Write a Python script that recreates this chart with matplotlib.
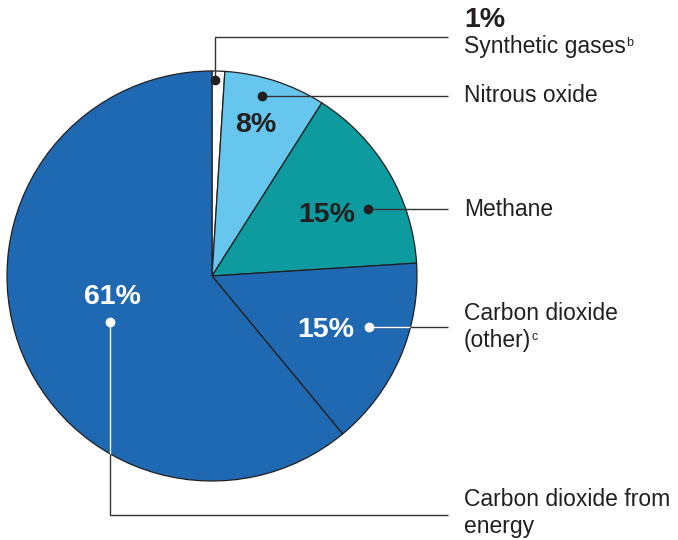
import matplotlib.pyplot as plt
from matplotlib.patches import Circle

plt.rcParams['font.family'] = ['Liberation Sans', 'DejaVu Sans']

labels = ['Synthetic gases', 'Nitrous oxide', 'Methane', 'Carbon dioxide\n(other)', 'Carbon dioxide from\nenergy']
shares = [1, 8, 15, 15, 61]
pct_text = ['1%', '8%', '15%', '15%', '61%']
colors = ['#ffffff', '#66c6ee', '#0e9b9f', '#1f69b3', '#1f69b3']
superscripts = ['b', '', '', 'c', '']

W, H = 678, 540
dark = '#231f20'

fig = plt.figure(figsize=(W / 100, H / 100), dpi=100)
ax = fig.add_axes([0, 0, 1, 1])

cx, cy, r = 212, 276, 205
wedges, _ = ax.pie(shares, colors=colors, startangle=90, counterclock=False,
                   center=(cx, H - cy), radius=r,
                   wedgeprops=dict(edgecolor=dark, linewidth=0.9))
ax.set_xlim(0, W)
ax.set_ylim(0, H)
ax.set_aspect('equal')
ax.axis('off')

clip = Circle((cx, H - cy), r, transform=ax.transData)

def leader(pts, dot_color):
    xs = [p[0] for p in pts]
    ys = [H - p[1] for p in pts]
    ax.plot(xs, ys, color='#333333', lw=1.0, zorder=3, solid_capstyle='butt')
    if dot_color == 'white':
        ln, = ax.plot(xs, ys, color='white', lw=1.0, zorder=4)
        ln.set_clip_path(clip)
    ax.plot(xs[0], ys[0], 'o', color=dot_color, ms=6, zorder=5)

# leader lines (pixel coordinates)
leader([(215, 80), (215, 37), (448, 37)], dark)
leader([(262, 96), (448, 96)], dark)
leader([(368, 209), (448, 209)], dark)
leader([(369, 327), (448, 327)], 'white')
leader([(110, 322), (110, 515), (448, 515)], 'white')

# percentage labels inside pie
pfs = 20.5
ax.text(256, H - 125, pct_text[1], ha='center', va='center', fontsize=pfs, fontweight='bold', color=dark)
ax.text(327, H - 215, pct_text[2], ha='center', va='center', fontsize=pfs, fontweight='bold', color=dark)
ax.text(326, H - 330, pct_text[3], ha='center', va='center', fontsize=pfs, fontweight='bold', color='white')
ax.text(112, H - 297, pct_text[4], ha='center', va='center', fontsize=pfs, fontweight='bold', color='white')
ax.text(464, H - 20, pct_text[0], ha='left', va='center', fontsize=pfs, fontweight='bold', color=dark)

# category labels on the right
label_y = [46, 96, 209, 314, 500]
for lab, y, sup in zip(labels, label_y, superscripts):
    for i, line in enumerate(lab.split('\n')):
        t = ax.text(464, H - y - i * 26, line, ha='left', va='center', fontsize=16.5, color=dark)
    if sup:
        ax.annotate(sup, xy=(1, 1), xycoords=t, xytext=(0.5, -1.5), textcoords='offset points',
                    ha='left', va='top', fontsize=9, color=dark)

fig.savefig('out.png', dpi=100)
